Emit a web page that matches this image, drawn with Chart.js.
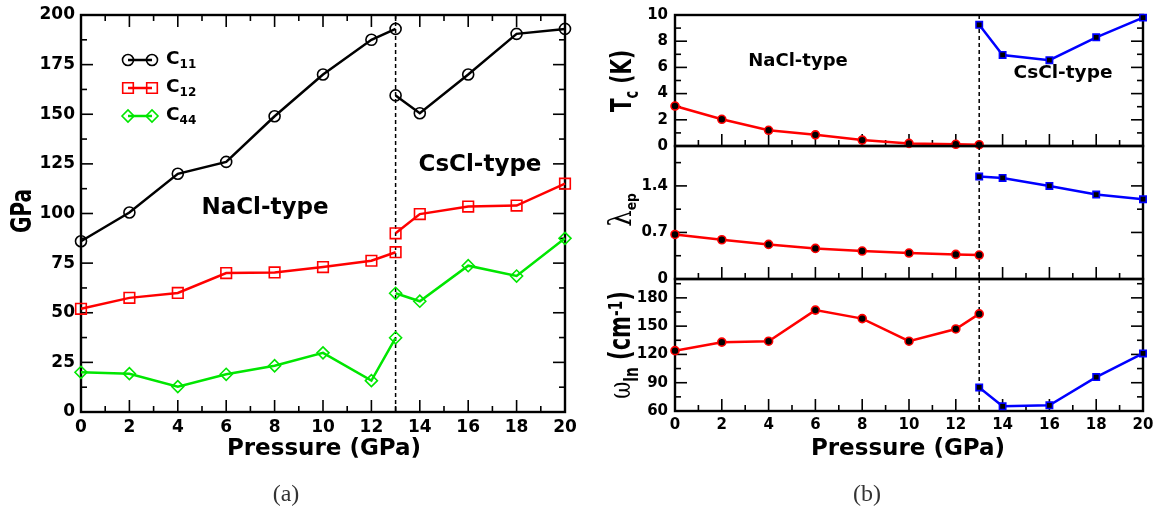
<!DOCTYPE html>
<html>
<head>
<meta charset="utf-8">
<script src="https://cdn.jsdelivr.net/npm/chart.js@4.4.1/dist/chart.umd.min.js"></script>
<style>
  body { margin: 0; background: #fff; }
  #wrap { position: relative; width: 1163px; height: 517px; overflow: hidden; }
  canvas { position: absolute; }
  .lbl { position: absolute; transform: translate(-50%, -50%); white-space: nowrap;
         font-family: "DejaVu Sans", sans-serif; font-weight: bold; color: #000; line-height: 1; }
  .rot { transform: translate(-50%, -50%) rotate(-90deg) scaleY(1.45); }
  .sub { font-size: 0.65em; position: relative; top: 0.35em; }
  .sup { font-size: 0.65em; position: relative; top: -0.45em; }
  .greek { font-family: "DejaVu Serif", serif; font-weight: normal; }
  .cap { font-family: "Liberation Serif", serif; font-weight: normal; color: #333; font-size: 24px; }
</style>
</head>
<body>
<div id="wrap">
  <canvas id="chartA" width="580" height="440" style="left:0;top:0"></canvas>
  <canvas id="chartTc" width="570" height="160" style="left:590px;top:0"></canvas>
  <canvas id="chartLam" width="570" height="157" style="left:590px;top:136px"></canvas>
  <canvas id="chartW" width="570" height="248" style="left:590px;top:269px"></canvas>

  <!-- panel (a) text -->
  <div class="lbl rot" style="left:21px;top:211px;font-size:20px">GPa</div>
  <div class="lbl" style="left:324px;top:447px;font-size:23px">Pressure (GPa)</div>
  <div class="lbl" style="left:265px;top:206px;font-size:23px">NaCl-type</div>
  <div class="lbl" style="left:480px;top:163px;font-size:23px">CsCl-type</div>
  <div class="lbl" style="left:166px;top:58px;font-size:18.5px;transform:translate(0,-50%)">C<span class="sub">11</span></div>
  <div class="lbl" style="left:166px;top:86px;font-size:18.5px;transform:translate(0,-50%)">C<span class="sub">12</span></div>
  <div class="lbl" style="left:166px;top:114px;font-size:18.5px;transform:translate(0,-50%)">C<span class="sub">44</span></div>
  <div class="lbl cap" style="left:286px;top:493px">(a)</div>

  <!-- panel (b) text -->
  <div class="lbl rot" style="left:621px;top:81px;font-size:20px">T<span class="sub">c</span> (K)</div>
  <div class="lbl rot" style="left:620px;top:210px;font-size:19px;transform:translate(-50%,-50%) rotate(-90deg) scaleY(1.2)"><span class="greek" style="font-size:26px">λ</span><span class="sub">ep</span></div>
  <div class="lbl rot" style="left:621px;top:345px;font-size:21px"><span class="greek">ω</span><span class="sub">ln</span> (cm<span class="sup">-1</span>)</div>
  <div class="lbl" style="left:908px;top:447px;font-size:23px">Pressure (GPa)</div>
  <div class="lbl" style="left:798px;top:60px;font-size:18px">NaCl-type</div>
  <div class="lbl" style="left:1063px;top:72px;font-size:18.5px">CsCl-type</div>
  <div class="lbl cap" style="left:867px;top:493px">(b)</div>
</div>

<script>
// pressures (GPa) for the two phases
const pNaCl = [0, 2, 4, 6, 8, 10, 12, 13];
const pCsCl = [13, 14, 16, 18, 20];

// elastic constants (GPa)
const c11NaCl = [86, 100.5, 120, 126, 149, 170, 187.5, 193];
const c11CsCl = [159.5, 150.5, 170, 190.5, 193];
const c12NaCl = [52, 57.5, 60, 70, 70.3, 73, 76.2, 80.5];
const c12CsCl = [90, 99.7, 103.5, 104, 115];
const c44NaCl = [20, 19.3, 12.8, 19, 23.3, 29.8, 15.8, 37.4];
const c44CsCl = [59.8, 55.8, 73.7, 68.5, 87.5];

// superconducting properties
const tcNaCl = [3.05, 2.04, 1.2, 0.85, 0.45, 0.2, 0.13, 0.1];
const tcCsCl = [9.25, 6.95, 6.55, 8.3, 9.8];
const lamNaCl = [0.67, 0.59, 0.52, 0.46, 0.42, 0.39, 0.37, 0.36];
const lamCsCl = [1.54, 1.52, 1.40, 1.27, 1.20];
const wNaCl = [124, 133, 134, 167, 158, 134, 147, 163];
const wCsCl = [85, 65, 66, 96, 121];

const phaseBoundary = 13;

Chart.defaults.font.family = '"DejaVu Sans", sans-serif';
Chart.defaults.font.weight = 'bold';
Chart.defaults.color = '#000';

function series(xs, ys, color, style, r, fill, lw) {
  return {
    data: xs.map((p, i) => ({ x: p, y: ys[i] })),
    borderColor: color,
    backgroundColor: fill,
    pointBackgroundColor: fill,
    pointBorderColor: color,
    pointStyle: style,
    pointRadius: r,
    pointHoverRadius: r,
    pointBorderWidth: 1.6,
    borderWidth: lw,
    tension: 0,
    clip: false
  };
}

// box, inward ticks and the dashed phase line
const framePlugin = {
  id: 'frame',
  beforeDatasetsDraw(chart, args, opts) {
    const { ctx, chartArea: a, scales: { x, y } } = chart;
    const line = (x1, y1, x2, y2) => { ctx.beginPath(); ctx.moveTo(x1, y1); ctx.lineTo(x2, y2); ctx.stroke(); };
    ctx.save();
    ctx.strokeStyle = '#000';
    ctx.lineWidth = 1.6;
    const major = 12, minor = 6;
    for (let v = x.min; v <= x.max + 1e-9; v += opts.xMinor) {
      const px = x.getPixelForValue(v);
      const isMajor = Math.abs(v / opts.xMajor - Math.round(v / opts.xMajor)) < 1e-6;
      const len = isMajor ? major : minor;
      line(px, a.bottom, px, a.bottom - len);
      if (opts.top) line(px, a.top, px, a.top + len);
    }
    for (let v = y.min; v <= y.max + 1e-9; v += opts.yMinor) {
      const py = y.getPixelForValue(v);
      const isMajor = Math.abs(v / opts.yMajor - Math.round(v / opts.yMajor)) < 1e-6;
      const len = isMajor ? major : minor;
      line(a.left, py, a.left + len, py);
      line(a.right, py, a.right - len, py);
    }
    // phase boundary
    ctx.lineWidth = 1.5;
    ctx.setLineDash([4, 3]);
    const bx = x.getPixelForValue(phaseBoundary);
    line(bx, a.top, bx, a.bottom);
    ctx.setLineDash([]);
    ctx.lineWidth = 2.4;
    ctx.strokeRect(a.left, a.top, a.right - a.left, a.bottom - a.top);
    ctx.restore();
  }
};

// line-marker-line legend of panel (a)
const legendPlugin = {
  id: 'markLegend',
  afterDatasetsDraw(chart, args, opts) {
    if (!opts.rows) return;
    const ctx = chart.ctx;
    opts.rows.forEach((row) => {
      const ds = chart.data.datasets[row.ds];
      ctx.save();
      ctx.strokeStyle = ds.borderColor;
      ctx.lineWidth = ds.borderWidth;
      ctx.beginPath(); ctx.moveTo(opts.x1, row.y); ctx.lineTo(opts.x2, row.y); ctx.stroke();
      ctx.lineWidth = ds.pointBorderWidth;
      ctx.fillStyle = 'rgba(0,0,0,0)';
      [opts.x1, opts.x2].forEach((px) => {
        Chart.helpers.drawPoint(ctx, { pointStyle: ds.pointStyle, radius: ds.pointRadius, rotation: 0, borderWidth: ds.pointBorderWidth }, px, row.y);
      });
      ctx.restore();
    });
  }
};

function baseOptions(o) {
  return {
    responsive: false,
    animation: false,
    events: [],
    layout: { padding: o.padding, autoPadding: false },
    plugins: { legend: { display: false }, tooltip: { enabled: false }, frame: o.frame, markLegend: o.legend || {} },
    scales: {
      x: {
        type: 'linear', min: 0, max: 20, display: o.showX,
        grid: { display: false, drawTicks: false }, border: { display: false },
        ticks: { stepSize: 2, padding: o.xPad, font: { size: o.fontSize } },
        afterFit: (s) => { s.height = o.xHeight; s.paddingLeft = 0; s.paddingRight = 0; }
      },
      y: {
        type: 'linear', min: o.yMin, max: o.yMax,
        grid: { display: false, drawTicks: false }, border: { display: false },
        ticks: { stepSize: o.yStep, padding: o.yPad, font: { size: o.fontSize } },
        afterBuildTicks: (s) => { s.ticks = s.ticks.filter((t) => t.value <= o.yLast + 1e-9); },
        afterFit: (s) => { s.width = o.yWidth; s.paddingTop = 0; s.paddingBottom = 0; }
      }
    }
  };
}

const plugins = [framePlugin, legendPlugin];
const transparent = 'rgba(0,0,0,0)';

// panel (a): elastic constants
new Chart(document.getElementById('chartA'), {
  type: 'line',
  data: {
    datasets: [
      series(pNaCl, c11NaCl, '#000000', 'circle', 5.5, transparent, 2.5),
      series(pCsCl, c11CsCl, '#000000', 'circle', 5.5, transparent, 2.5),
      series(pNaCl, c12NaCl, '#ff0000', 'rect', 7.5, transparent, 2.5),
      series(pCsCl, c12CsCl, '#ff0000', 'rect', 7.5, transparent, 2.5),
      series(pNaCl, c44NaCl, '#00e600', 'rectRot', 6, transparent, 2.5),
      series(pCsCl, c44CsCl, '#00e600', 'rectRot', 6, transparent, 2.5)
    ]
  },
  options: baseOptions({
    padding: { top: 15, right: 15, bottom: 0, left: 0 },
    showX: true, xPad: 5, xHeight: 28, fontSize: 17,
    yMin: 0, yMax: 200, yStep: 25, yLast: 200, yPad: 6, yWidth: 81,
    frame: { xMajor: 2, xMinor: 1, yMajor: 25, yMinor: 12.5, top: true },
    legend: { x1: 128, x2: 152, rows: [{ ds: 0, y: 60 }, { ds: 2, y: 88 }, { ds: 4, y: 116 }] }
  }),
  plugins
});

// panel (b): Tc, lambda, omega_ln
const red = '#ff0000', blue = '#0000ff';

new Chart(document.getElementById('chartTc'), {
  type: 'line',
  data: { datasets: [
    series(pNaCl, tcNaCl, red, 'circle', 4, '#000', 2.5),
    series(pCsCl, tcCsCl, blue, 'rect', 4.5, '#000', 2.5)
  ] },
  options: baseOptions({
    padding: { top: 15, right: 17, bottom: 14, left: 0 },
    showX: false, xPad: 5, xHeight: 0, fontSize: 15,
    yMin: 0, yMax: 10, yStep: 2, yLast: 10, yPad: 7, yWidth: 85,
    frame: { xMajor: 2, xMinor: 1, yMajor: 2, yMinor: 1, top: false }
  }),
  plugins
});

new Chart(document.getElementById('chartLam'), {
  type: 'line',
  data: { datasets: [
    series(pNaCl, lamNaCl, red, 'circle', 4, '#000', 2.5),
    series(pCsCl, lamCsCl, blue, 'rect', 4.5, '#000', 2.5)
  ] },
  options: baseOptions({
    padding: { top: 10, right: 17, bottom: 14, left: 0 },
    showX: false, xPad: 5, xHeight: 0, fontSize: 15,
    yMin: 0, yMax: 2, yStep: 0.7, yLast: 1.4, yPad: 7, yWidth: 85,
    frame: { xMajor: 2, xMinor: 1, yMajor: 0.7, yMinor: 0.35, top: false }
  }),
  plugins
});

new Chart(document.getElementById('chartW'), {
  type: 'line',
  data: { datasets: [
    series(pNaCl, wNaCl, red, 'circle', 4, '#000', 2.5),
    series(pCsCl, wCsCl, blue, 'rect', 4.5, '#000', 2.5)
  ] },
  options: baseOptions({
    padding: { top: 10, right: 17, bottom: 0, left: 0 },
    showX: true, xPad: 5, xHeight: 106, fontSize: 15,
    yMin: 60, yMax: 200, yStep: 30, yLast: 180, yPad: 7, yWidth: 85,
    frame: { xMajor: 2, xMinor: 1, yMajor: 30, yMinor: 15, top: false }
  }),
  plugins
});
</script>
</body>
</html>
